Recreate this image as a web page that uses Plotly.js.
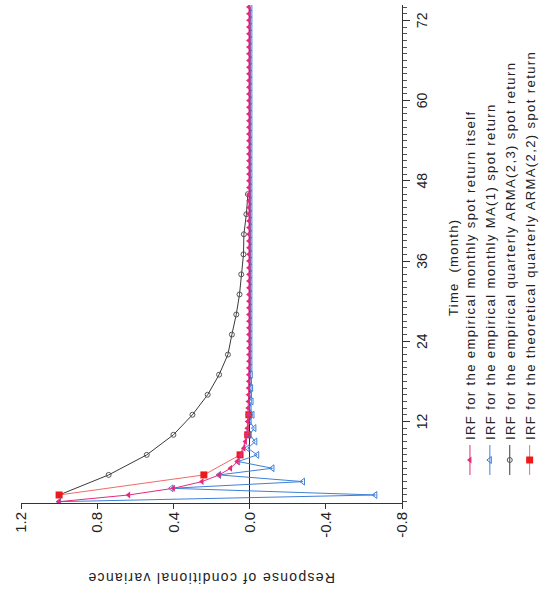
<!DOCTYPE html>
<html>
<head>
<meta charset="utf-8">
<script src="https://cdn.plot.ly/plotly-3.0.1.min.js"></script>
<style>
  html, body { margin: 0; padding: 0; background: #fff; overflow: hidden; }
  body { width: 542px; height: 594px; position: relative; }
  /* the chart is laid out landscape and turned a quarter turn counter-clockwise */
  #chart {
    position: absolute; left: 0; top: 594px;
    width: 594px; height: 542px;
    transform-origin: 0 0;
    transform: rotate(-90deg);
  }
  /* looser tracking for the legend and the axis titles */
  .legendtext { letter-spacing: 1.4px; }
  .annotation-text { letter-spacing: 1.3px; }
</style>
</head>
<body>
<div id="chart"></div>
<script>
// Months after the shock
const monthsMonthly = [
  0, 1, 2, 3, 4, 5, 6, 7, 8, 9, 10, 11, 12, 13, 14, 15, 16, 17, 18, 19,
  20, 21, 22, 23, 24, 25, 26, 27, 28, 29, 30, 31, 32, 33, 34, 35, 36, 37, 38, 39,
  40, 41, 42, 43, 44, 45, 46, 47, 48, 49, 50, 51, 52, 53, 54, 55, 56, 57, 58, 59,
  60, 61, 62, 63, 64, 65, 66, 67, 68, 69, 70, 71, 72, 73, 74
];
const monthsQuarterlyEmpirical = [1, 4, 7, 10, 13, 16, 19, 22, 25, 28, 31, 34, 37, 40, 43, 46];
const monthsQuarterlyTheoretical = [1, 4, 7, 10, 13];

// IRF of the empirical monthly spot return itself
const irfMonthlyItself = [
  1.0, 0.635, 0.40, 0.25, 0.16, 0.10, 0.065, 0.045, 0.03, 0.022,
  0.016, 0.012, 0.01, 0.008, 0.007, 0.006, 0.005, 0.005, 0.004, 0.004,
  0.004, 0.003, 0.003, 0.003, 0.003, 0.003, 0.003, 0.003, 0.003, 0.003,
  0.003, 0.003, 0.003, 0.003, 0.003, 0.003, 0.003, 0.003, 0.003, 0.003,
  0.003, 0.003, 0.003, 0.003, 0.003, 0.003, 0.003, 0.003, 0.003, 0.003,
  0.003, 0.003, 0.003, 0.003, 0.003, 0.003, 0.003, 0.003, 0.003, 0.003,
  0.003, 0.003, 0.003, 0.003, 0.003, 0.003, 0.003, 0.003, 0.003, 0.003,
  0.003, 0.003, 0.003, 0.003, 0.003
];

// IRF of the empirical monthly MA(1) spot return
const irfMonthlyMA1 = [
  1.0, -0.66, 0.41, -0.28, 0.16, -0.12, 0.06, -0.04, 0.01, -0.03,
  0.0, -0.025, 0.0, -0.015, 0.0, -0.01, -0.002, -0.008, -0.002, -0.006,
  -0.004, -0.004, -0.004, -0.004, -0.004, -0.004, -0.004, -0.004, -0.004, -0.004,
  -0.004, -0.004, -0.004, -0.004, -0.004, -0.004, -0.004, -0.004, -0.004, -0.004,
  -0.004, -0.004, -0.004, -0.004, -0.004, -0.004, -0.004, -0.004, -0.004, -0.004,
  -0.004, -0.004, -0.004, -0.004, -0.004, -0.004, -0.004, -0.004, -0.004, -0.004,
  -0.004, -0.004, -0.004, -0.004, -0.004, -0.004, -0.004, -0.004, -0.004, -0.004,
  -0.004, -0.004, -0.004, -0.004, -0.004
];

// IRF of the empirical quarterly ARMA(2,3) spot return
const irfQuarterlyEmpirical = [
  1.0, 0.74, 0.54, 0.40, 0.30, 0.22, 0.16, 0.114,
  0.093, 0.07, 0.053, 0.044, 0.032, 0.03, 0.017, 0.009
];

// IRF of the theoretical quarterly ARMA(2,2) spot return
const irfQuarterlyTheoretical = [1.0, 0.24, 0.05, 0.01, 0.004];

const seriesNames = [
  'IRF for the empirical monthly spot return itself',
  'IRF for the empirical monthly MA(1) spot return',
  'IRF for the empirical quarterly ARMA(2,3) spot return',
  'IRF for the theoretical quarterly ARMA(2,2) spot return'
];

const responseTicks = [-0.8, -0.4, 0.0, 0.4, 0.8, 1.2];
const responseTickText = ['-0.8', '-0.4', '0.0', '0.4', '0.8', '1.2'];
const monthTicks = [12, 24, 36, 48, 60, 72];

const FONT = 'Arial, "Liberation Sans", sans-serif';
const W = 594, H = 542;

const traces = [
  {
    x: monthsQuarterlyEmpirical, y: irfQuarterlyEmpirical, name: seriesNames[2],
    type: 'scatter', mode: 'lines+markers', legendrank: 3,
    line: { color: '#3a3a3a', width: 1 },
    marker: { symbol: 'circle-open', size: 5, color: '#555555', line: { width: 1 } }
  },
  {
    x: monthsQuarterlyTheoretical, y: irfQuarterlyTheoretical, name: seriesNames[3],
    type: 'scatter', mode: 'lines+markers', legendrank: 4,
    line: { color: '#f26a6a', width: 1 },
    marker: { symbol: 'square', size: 7, color: '#ee1a1a' }
  },
  {
    x: monthsMonthly, y: irfMonthlyMA1, name: seriesNames[1],
    type: 'scatter', mode: 'lines+markers', legendrank: 2,
    line: { color: '#3f80d8', width: 1 },
    marker: { symbol: 'triangle-up-open', size: 6, color: '#3f80d8', line: { width: 1 } }
  },
  {
    x: monthsMonthly, y: irfMonthlyItself, name: seriesNames[0],
    type: 'scatter', mode: 'lines+markers', legendrank: 1,
    line: { color: '#e52a7d', width: 1 },
    marker: { symbol: 'triangle-up', size: 6, color: '#e52a7d' }
  }
];

// plot box in px of the landscape figure: left 91, right 589, top 21, bottom 402
const layout = {
  width: W, height: H,
  paper_bgcolor: '#ffffff', plot_bgcolor: '#ffffff',
  margin: { l: 0, r: 0, t: 0, b: 0, autoexpand: false },
  font: { family: FONT, color: '#222222' },
  showlegend: true,
  legend: {
    x: 114 / W, y: (H - 455) / H, xanchor: 'left', yanchor: 'top',
    font: { family: FONT, size: 13, color: '#222222' },
    bgcolor: 'rgba(0,0,0,0)', borderwidth: 0,
    tracegroupgap: 0
  },
  xaxis: {
    domain: [91 / W, 589 / W],
    range: [-0.2, 74.3],
    automargin: false,
    showgrid: false, zeroline: false,
    showline: true, linecolor: '#333333', linewidth: 1,
    tickmode: 'array', tickvals: monthTicks,
    ticks: 'outside', ticklen: 7, tickcolor: '#333333',
    tickfont: { family: FONT, size: 14, color: '#222222' },
    minor: { dtick: 1, ticks: 'outside', ticklen: 4, tickcolor: '#555555', showgrid: false }
  },
  yaxis: {
    domain: [(H - 402) / H, (H - 21) / H],
    range: [-0.8, 1.2],
    automargin: false,
    showgrid: false,
    zeroline: true, zerolinecolor: '#1e2a3a', zerolinewidth: 1.2,
    showline: true, linecolor: '#333333', linewidth: 1,
    tickmode: 'array', tickvals: responseTicks, ticktext: responseTickText,
    ticks: 'outside', ticklen: 5, tickcolor: '#333333',
    tickfont: { family: FONT, size: 15, color: '#222222' }
  },
  annotations: [
    {
      text: 'Time  (month)', xref: 'paper', yref: 'paper',
      x: 326 / W, y: (H - 453) / H, xanchor: 'center', yanchor: 'middle',
      showarrow: false, font: { family: FONT, size: 13, color: '#222222' }
    },
    {
      text: 'Response of conditional variance', xref: 'paper', yref: 'paper',
      x: 16 / W, y: (H - 211) / H, xanchor: 'center', yanchor: 'middle', textangle: -90,
      showarrow: false, font: { family: FONT, size: 14, color: '#222222' }
    }
  ]
};

Plotly.newPlot('chart', traces, layout, { displayModeBar: false, staticPlot: true });
</script>
</body>
</html>
